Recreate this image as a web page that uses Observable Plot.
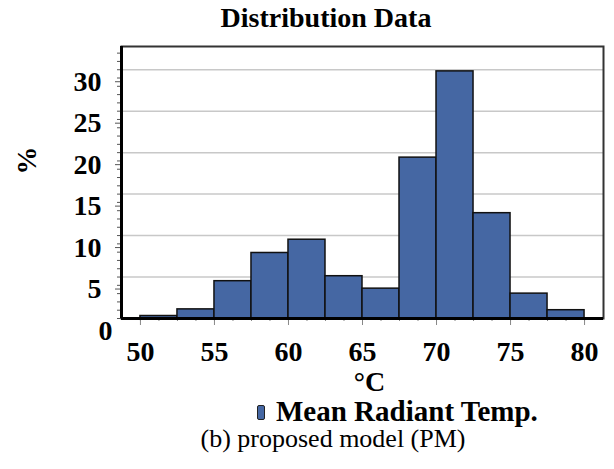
<!DOCTYPE html>
<html>
<head>
<meta charset="utf-8">
<script src="https://cdn.jsdelivr.net/npm/d3@7"></script>
<script src="https://cdn.jsdelivr.net/npm/@observablehq/plot@0.6"></script>
<style>
  html, body { margin: 0; padding: 0; background: white; }
  #wrap { position: relative; width: 614px; height: 469px; font-family: "Liberation Serif", "Times New Roman", serif; color: black; }
  #title { position: absolute; top: 4px; left: 326px; transform: translateX(-50%); font-size: 28px; line-height: 28px; font-weight: bold; white-space: nowrap; }
  #chart { position: absolute; top: 36px; left: 0; }
  #legend { position: absolute; top: 397px; left: 257px; font-size: 29px; line-height: 29px; font-weight: bold; white-space: nowrap; display: flex; align-items: center; }
  #legend .sw { display: inline-block; width: 6px; height: 13px; background: #4567a3; border: 1.5px solid #222; border-radius: 2px; margin-right: 11px; margin-top: 2px; }
  #caption { position: absolute; top: 426px; left: 333px; transform: translateX(-50%); font-size: 26px; line-height: 26px; white-space: nowrap; }
</style>
</head>
<body>
<div id="wrap">
  <div id="title"></div>
  <div id="chart"></div>
  <div id="legend"></div>
  <div id="caption"></div>
</div>
<script>
const titleText = "Distribution Data";
const seriesName = "Mean Radiant Temp.";
const captionText = "(b) proposed model (PM)";
const xLabel = "°C";
const yLabel = "%";
const binStarts = [50, 52.5, 55, 57.5, 60, 62.5, 65, 67.5, 70, 72.5, 75, 77.5];
const binEnds   = [52.5, 55, 57.5, 60, 62.5, 65, 67.5, 70, 72.5, 75, 77.5, 80];
const percents  = [0.3, 1.1, 4.5, 7.9, 9.5, 5.1, 3.6, 19.4, 29.8, 12.7, 3.0, 1.0];
const xTicks = [50, 55, 60, 65, 70, 75, 80];
const xMinorTicks = d3.range(50, 80.001, 1.25);
const yTicks = [5, 10, 15, 20, 25, 30];
const yZeroTick = [0];
const yMinorTicks = d3.range(0, 33, 1);
const xDomain = [48.72, 81.28];
const yDomain = [0, 32.8];
const barColor = "#4567a3";

const data = binStarts.map((s, i) => ({x0: s, x1: binEnds[i], pct: percents[i]}));

document.getElementById("title").textContent = titleText;
document.getElementById("caption").textContent = captionText;
const lg = document.getElementById("legend");
const sw = document.createElement("span"); sw.className = "sw"; lg.appendChild(sw);
lg.appendChild(document.createTextNode(seriesName));

const fontFam = "'Liberation Serif', 'Times New Roman', serif";
const chart = Plot.plot({
  width: 614,
  height: 359,
  marginTop: 10,
  marginBottom: 77,
  marginLeft: 121,
  marginRight: 11,
  style: {fontFamily: fontFam, background: "white", color: "black", overflow: "visible"},
  x: {domain: xDomain},
  y: {domain: yDomain},
  marks: [
    Plot.gridY(yTicks, {stroke: "#c8c8c8", strokeOpacity: 1, strokeWidth: 1.5}),
    Plot.rectY(data, {x1: "x0", x2: "x1", y: "pct", fill: barColor, stroke: "#111", strokeWidth: 1.5}),
    Plot.axisX(xMinorTicks, {tickSize: 3, stroke: "#888", text: null, label: null}),
    Plot.axisX(xTicks, {tickSize: 7, stroke: "#888", tickPadding: 16, fontSize: 28, fontWeight: "bold", fill: "black", label: null}),
    Plot.axisY(yMinorTicks, {tickSize: 4, stroke: "#555", text: null, label: null}),
    Plot.axisY(yTicks, {tickSize: 6, stroke: "#555", tickPadding: 14, dy: 12, fontSize: 28, fontWeight: "bold", fill: "black", label: null}),
    Plot.axisY(yZeroTick, {tickSize: 0, tickPadding: 9, dy: 13, fontSize: 28, fontWeight: "bold", fill: "black", label: null}),
    Plot.frame({stroke: "#333", strokeWidth: 2}),
    Plot.ruleY([yDomain[0]], {stroke: "black", strokeWidth: 3}),
    Plot.ruleX([xDomain[0]], {stroke: "black", strokeWidth: 3}),
    Plot.text([yLabel], {frameAnchor: "left", dx: -94, dy: -8, rotate: -90, fontSize: 28, fontWeight: "bold", fill: "black"}),
    Plot.text([xLabel], {frameAnchor: "bottom", lineAnchor: "bottom", dx: 7, dy: 72, fontSize: 28, fontWeight: "bold", fill: "black"})
  ]
});
document.getElementById("chart").appendChild(chart);
</script>
</body>
</html>
